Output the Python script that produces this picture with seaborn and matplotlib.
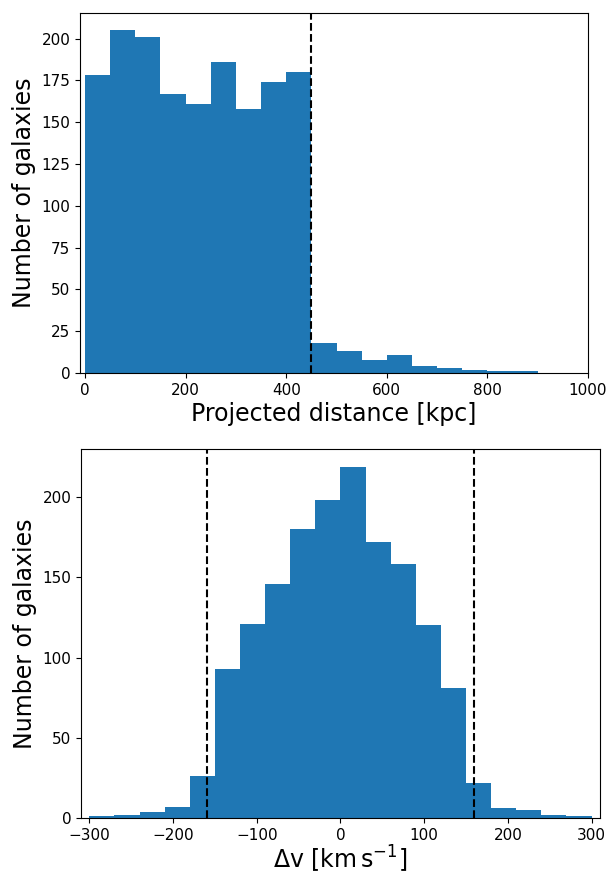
import numpy as np
import pandas as pd
import seaborn as sns
import matplotlib
matplotlib.use('Agg')
import matplotlib.pyplot as plt

# projected distance histogram (kpc), 50 kpc bins
dist_edges = np.arange(0, 901, 50)
dist_counts = [178, 205, 201, 167, 161, 186, 158, 174, 180,
               18, 13, 8, 11, 4, 3, 2, 1, 1]
dist_cut = 450

# velocity offset histogram (km/s), 30 km/s bins
dv_edges = np.arange(-300, 301, 30)
dv_counts = [1, 2, 4, 7, 26, 93, 121, 146, 180, 198,
             219, 172, 158, 120, 81, 22, 6, 5, 2, 1]
dv_cut = 160

def to_df(edges, counts):
  centers = (edges[:-1] + edges[1:]) / 2
  return pd.DataFrame({'x': centers, 'n': counts})

df_dist = to_df(dist_edges, dist_counts)
df_dv = to_df(dv_edges, dv_counts)

fig = plt.figure(figsize=(6.08, 8.74), dpi=100)
ax1 = fig.add_axes([0.1316, 0.5732, 0.8355, 0.4119])
ax2 = fig.add_axes([0.1332, 0.0641, 0.8536, 0.4222])

sns.histplot(data=df_dist, x='x', weights='n', bins=list(dist_edges), ax=ax1,
             color='#1f77b4', alpha=1, linewidth=0)
ax1.axvline(dist_cut, color='k', ls='--', lw=1.5)
ax1.set_xlim(-10, 1000)
ax1.set_ylim(0, max(dist_counts) * 1.05)
ax1.set_xlabel('Projected distance [kpc]', fontsize=17, labelpad=3)
ax1.set_ylabel('Number of galaxies', fontsize=17)
ax1.tick_params(labelsize=11)

sns.histplot(data=df_dv, x='x', weights='n', bins=list(dv_edges), ax=ax2,
             color='#1f77b4', alpha=1, linewidth=0)
ax2.axvline(-dv_cut, color='k', ls='--', lw=1.5)
ax2.axvline(dv_cut, color='k', ls='--', lw=1.5)
ax2.set_xlim(-310, 310)
ax2.set_ylim(0, max(dv_counts) * 1.05)
ax2.set_xticks(np.arange(-300, 301, 100))
ax2.set_yticks(np.arange(0, 201, 50))
ax2.set_xlabel(r'$\Delta$v [km$\,$s$^{-1}$]', fontsize=17, labelpad=1)
ax2.set_ylabel('Number of galaxies', fontsize=17)
ax2.tick_params(labelsize=11)

fig.savefig('out.png', dpi=100)
